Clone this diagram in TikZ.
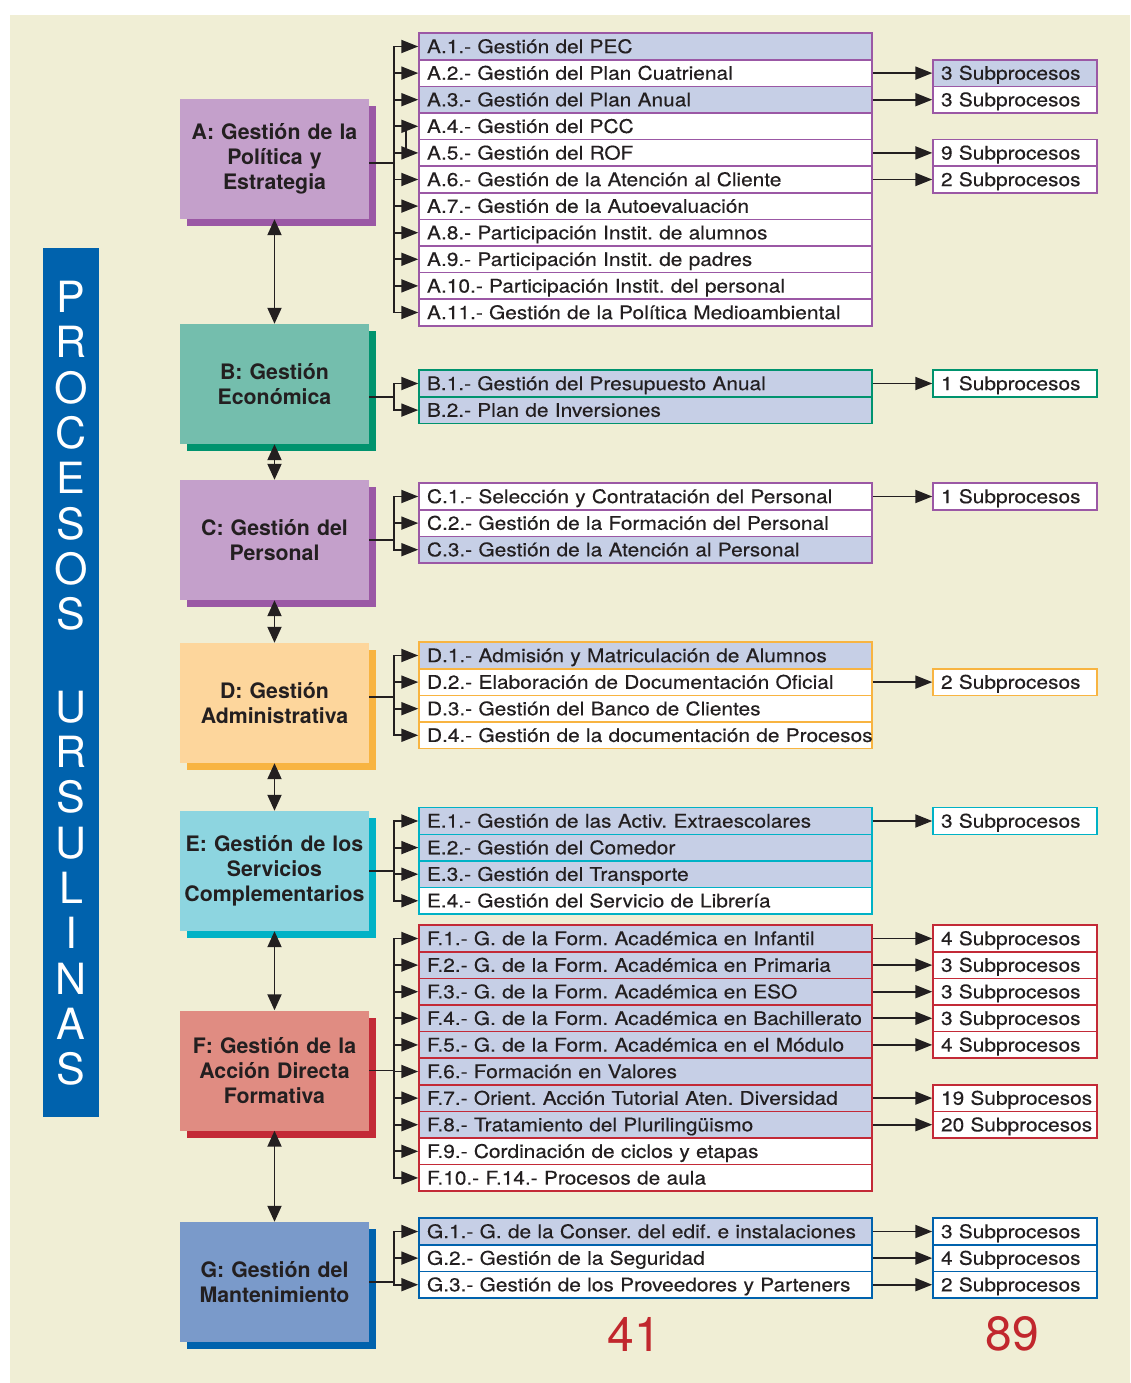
\documentclass[tikz,border=0pt]{standalone}
\usepackage{fontspec}
\setmainfont{TeX Gyre Heros}
\newfontfamily\widefont[FakeStretch=1.11,FakeBold=0.3]{TeX Gyre Heros}
\usetikzlibrary{arrows.meta,shadows}
\frenchspacing

\definecolor{cream}{HTML}{F0EED5}
\definecolor{rowshade}{HTML}{C6CFE6}
\definecolor{ink}{HTML}{231F20}
\definecolor{numred}{HTML}{C1272D}
\definecolor{purpL}{HTML}{C4A0CB}
\definecolor{purpD}{HTML}{9B58A5}
\definecolor{greenL}{HTML}{74BEAD}
\definecolor{greenD}{HTML}{00936E}
\definecolor{orangeL}{HTML}{FDD69C}
\definecolor{orangeD}{HTML}{F8B441}
\definecolor{cyanL}{HTML}{8DD5E0}
\definecolor{cyanD}{HTML}{00B2C6}
\definecolor{redL}{HTML}{E08C82}
\definecolor{redD}{HTML}{C32A37}
\definecolor{blueL}{HTML}{7A9ACA}
\definecolor{blueD}{HTML}{0062AD}

\newcommand\itemfont{\widefont\fontsize{18.8}{22}\selectfont}
\newcommand\groupfont{\bfseries\fontsize{21.3}{25.3}\selectfont}

\begin{document}
\begin{tikzpicture}[x=1pt, y=-1pt,
  groupbox/.style={fill=#1L, general shadow={fill=#1D, shadow xshift=7pt, shadow yshift=-7pt},
                   minimum width=189pt, minimum height=120pt, text width=186pt,
                   inner sep=0pt, align=center, font=\groupfont, text=ink},
  itembox/.style={draw=#1D, fill=white, line width=1.5pt, minimum width=453pt,
                  minimum height=26.6pt, text width=437pt, inner xsep=8pt, inner ysep=0pt,
                  text height=13.3pt, text depth=0pt, align=left, font=\itemfont, text=ink},
  subbox/.style={itembox=#1, minimum width=164pt, text width=148pt},
  letter/.style={text=white, inner sep=0pt, text height=31pt, text depth=0pt,
                 font=\fontsize{43}{43}\selectfont},
  num/.style={text=numred, inner sep=0pt, font=\fontsize{48}{48}\selectfont},
  arr/.style={-{Triangle[length=17pt,width=13pt]}, line width=1.9pt, draw=ink},
  link/.style={{Triangle[length=16pt,width=14pt]}-{Triangle[length=16pt,width=14pt]},
               line width=1.9pt, draw=ink}]

\useasboundingbox (0,0) rectangle (1130,1383);
\fill[cream] (10,15) rectangle (1130,1383);

% vertical band
\node[fill=blueD, minimum width=56pt, minimum height=869pt, inner sep=0pt] (band) at (71,682.5) {};
\foreach \letr [count=\k] in {P,R,O,C,E,S,O,S}
  \node[letter] (p\k) at (71,{297+45.35*(\k-1)}) {\letr};
\foreach \letr [count=\k] in {U,R,S,U,L,I,N,A,S}
  \node[letter] (u\k) at (71,{706.6+45.35*(\k-1)}) {\letr};

% process groups
\node[groupbox=purp]   (A) at (274.5,159)    {A: Gestión de la\\Política y\\Estrategia};
\node[groupbox=green]  (B) at (274.5,384)    {B: Gestión\\Económica};
\node[groupbox=purp]   (C) at (274.5,540)    {C: Gestión del\\Personal};
\node[groupbox=orange] (D) at (274.5,703)    {D: Gestión\\Administrativa};
\node[groupbox=cyan]   (E) at (274.5,871)    {E: Gestión de los\\Servicios\\Complementarios};
\node[groupbox=red]    (F) at (274.5,1070.5) {F: Gestión de la\\Acción Directa\\Formativa};
\node[groupbox=blue]   (G) at (274.5,1282)   {G: Gestión del\\Mantenimiento};

% A
\foreach \n/\f/\lbl in {1/rowshade/{A.1.- Gestión del PEC},
    2/white/{A.2.- Gestión del Plan Cuatrienal},
    3/rowshade/{A.3.- Gestión del Plan Anual},
    4/white/{A.4.- Gestión del PCC},
    5/white/{A.5.- Gestión del ROF},
    6/white/{A.6.- Gestión de la Atención al Cliente},
    7/white/{A.7.- Gestión de la Autoevaluación},
    8/white/{A.8.- Participación Instit. de alumnos},
    9/white/{A.9.- Participación Instit. de padres},
    10/white/{A.10.- Participación Instit. del personal},
    11/white/{A.11.- Gestión de la Política Medioambiental}}
  \node[itembox=purp, fill=\f] (A\n) at (645.5,{46.5+26.6*(\n-1)}) {\mbox{\lbl}};
\foreach \n/\f/\s in {2/rowshade/3, 3/white/3, 5/white/9, 6/white/2}
  \node[subbox=purp, fill=\f] (sA\n) at (1015,{46.5+26.6*(\n-1)}) {\mbox{\s\ Subprocesos}};

% B
\foreach \n/\f/\lbl in {1/rowshade/{B.1.- Gestión del Presupuesto Anual},
    2/rowshade/{B.2.- Plan de Inversiones}}
  \node[itembox=green, fill=\f] (B\n) at (645.5,{383.5+26.6*(\n-1)}) {\mbox{\lbl}};
\node[subbox=green] (sB1) at (1015,383.5) {\mbox{1 Subprocesos}};

% C
\foreach \n/\f/\lbl in {1/white/{C.1.- Selección y Contratación del Personal},
    2/white/{C.2.- Gestión de la Formación del Personal},
    3/rowshade/{C.3.- Gestión de la Atención al Personal}}
  \node[itembox=purp, fill=\f] (C\n) at (645.5,{496.5+26.6*(\n-1)}) {\mbox{\lbl}};
\node[subbox=purp] (sC1) at (1015,496.5) {\mbox{1 Subprocesos}};

% D
\foreach \n/\f/\lbl in {1/rowshade/{D.1.- Admisión y Matriculación de Alumnos},
    2/white/{D.2.- Elaboración de Documentación Oficial},
    3/white/{D.3.- Gestión del Banco de Clientes},
    4/white/{D.4.- Gestión de la documentación de Procesos}}
  \node[itembox=orange, fill=\f] (D\n) at (645.5,{655.5+26.6*(\n-1)}) {\mbox{\lbl}};
\node[subbox=orange] (sD2) at (1015,682.1) {\mbox{2 Subprocesos}};

% E
\foreach \n/\f/\lbl in {1/rowshade/{E.1.- Gestión de las Activ. Extraescolares},
    2/rowshade/{E.2.- Gestión del Comedor},
    3/rowshade/{E.3.- Gestión del Transporte},
    4/white/{E.4.- Gestión del Servicio de Librería}}
  \node[itembox=cyan, fill=\f] (E\n) at (645.5,{821+26.6*(\n-1)}) {\mbox{\lbl}};
\node[subbox=cyan] (sE1) at (1015,821) {\mbox{3 Subprocesos}};

% F
\foreach \n/\f/\lbl in {1/rowshade/{F.1.- G. de la Form. Académica en Infantil},
    2/rowshade/{F.2.- G. de la Form. Académica en Primaria},
    3/rowshade/{F.3.- G. de la Form. Académica en ESO},
    4/rowshade/{F.4.- G. de la Form. Académica en Bachillerato},
    5/rowshade/{F.5.- G. de la Form. Académica en el Módulo},
    6/rowshade/{F.6.- Formación en Valores},
    7/rowshade/{F.7.- Orient. Acción Tutorial Aten. Diversidad},
    8/rowshade/{F.8.- Tratamiento del Plurilingüismo},
    9/white/{F.9.- Cordinación de ciclos y etapas},
    10/white/{F.10.- F.14.- Procesos de aula}}
  \node[itembox=red, fill=\f] (F\n) at (645.5,{938.5+26.6*(\n-1)}) {\mbox{\lbl}};
\foreach \n/\s in {1/4, 2/3, 3/3, 4/3, 5/4, 7/19, 8/20}
  \node[subbox=red] (sF\n) at (1015,{938.5+26.6*(\n-1)}) {\mbox{\s\ Subprocesos}};

% G
\foreach \n/\f/\lbl in {1/rowshade/{G.1.- G. de la Conser. del edif. e instalaciones},
    2/white/{G.2.- Gestión de la Seguridad},
    3/white/{G.3.- Gestión de los Proveedores y Parteners}}
  \node[itembox=blue, fill=\f] (G\n) at (645.5,{1231.5+26.6*(\n-1)}) {\mbox{\lbl}};
\foreach \n/\s in {1/3, 2/4, 3/2}
  \node[subbox=blue] (sG\n) at (1015,{1231.5+26.6*(\n-1)}) {\mbox{\s\ Subprocesos}};

% connectors
\foreach \n in {1,...,11} \draw[arr] ([yshift=-4pt]A.east) -- ++(25,0) |- (A\n.west);
\draw[line width=1.9pt, draw=ink] ([xshift=-12pt]A4.west) -- ([xshift=-12pt]A5.west);
\foreach \n in {1,2} \draw[arr] ([yshift=-13pt]B.east) -- ++(25,0) |- (B\n.west);
\foreach \n in {1,2,3} \draw[arr] (C.east) -- ++(25,0) |- (C\n.west);
\foreach \n in {1,...,4} \draw[arr] ([yshift=6pt]D.east) -- ++(25,0) |- (D\n.west);
\foreach \n in {1,...,4} \draw[arr] (E.east) -- ++(25,0) |- (E\n.west);
\foreach \n in {1,...,10} \draw[arr] (F.east) -- ++(25,0) |- (F\n.west);
\foreach \n in {1,2,3} \draw[arr] (G.east) -- ++(25,0) |- (G\n.west);

\foreach \r in {A2,A3,A5,A6,B1,C1,D2,E1,F1,F2,F3,F4,F5,F7,F8,G1,G2,G3}
  \draw[arr] (\r) -- (s\r);

\foreach \u/\v in {A/B,B/C,C/D,D/E,E/F,F/G} \draw[link] (\u.south) -- (\v.north);

\node[num] (n41) at (634,1334) {41};
\node[num] (n89) at (1012,1334) {89};
\end{tikzpicture}
\end{document}
